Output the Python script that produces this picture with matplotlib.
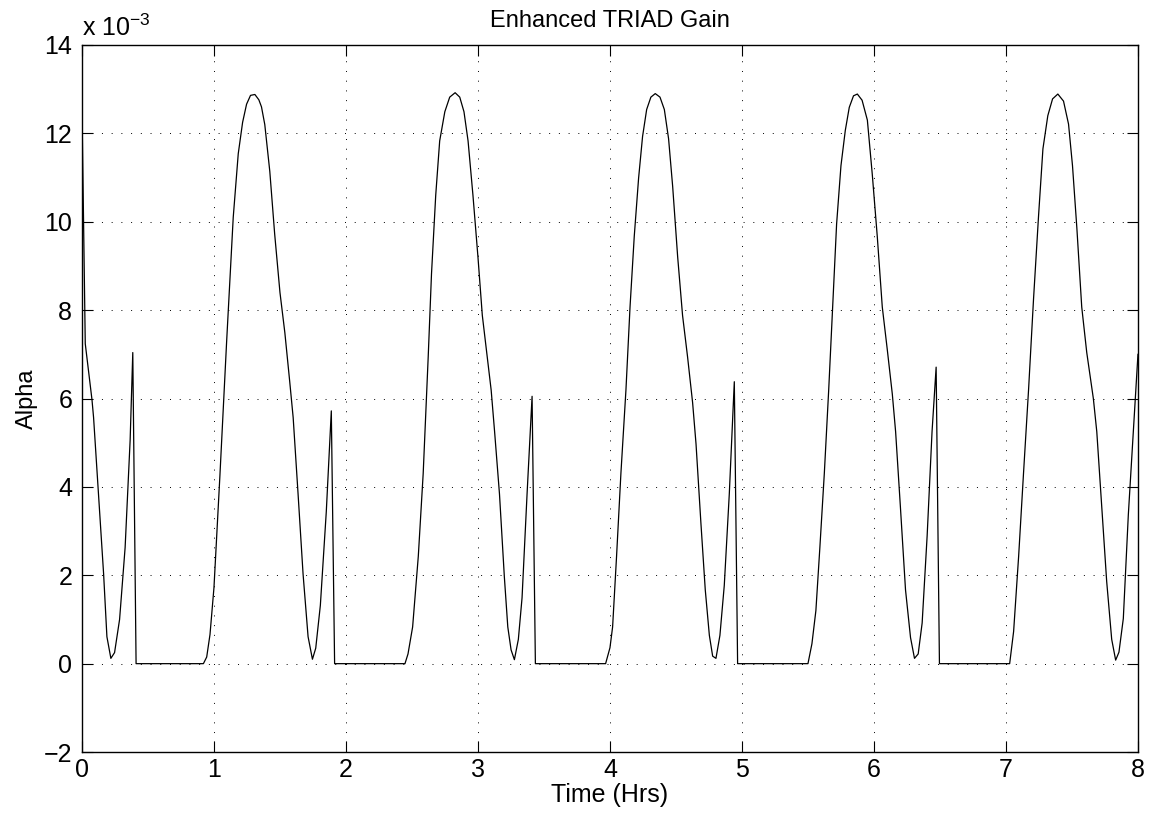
import matplotlib
matplotlib.use("Agg")
import matplotlib.pyplot as plt

plt.rcParams["font.family"] = ["Liberation Sans", "DejaVu Sans"]
plt.rcParams["mathtext.fontset"] = "custom"
plt.rcParams["mathtext.rm"] = "Liberation Sans"

# alpha values, in units of 1e-3
time_hrs = [
    0.0, 0.025, 0.076, 0.088, 0.164, 0.189, 0.219, 0.247, 0.285, 0.327, 0.365, 0.385, 0.41,
    0.92, 0.945, 0.97, 1.0, 1.045, 1.096, 1.146, 1.184, 1.217, 1.247, 1.277, 1.31, 1.34,
    1.36, 1.385, 1.423, 1.46, 1.5, 1.537, 1.574, 1.6, 1.637, 1.675, 1.713, 1.746, 1.771,
    1.806, 1.851, 1.889, 1.914,
    2.447, 2.47, 2.505, 2.548, 2.585, 2.623, 2.648, 2.68, 2.71, 2.749, 2.786, 2.827, 2.862,
    2.894, 2.925, 2.962, 3.0, 3.033, 3.063, 3.1, 3.126, 3.163, 3.2, 3.226, 3.251, 3.276,
    3.306, 3.334, 3.372, 3.41, 3.435,
    3.967, 4.0, 4.02, 4.05, 4.083, 4.121, 4.152, 4.184, 4.217, 4.247, 4.278, 4.31, 4.343,
    4.379, 4.412, 4.444, 4.475, 4.513, 4.55, 4.588, 4.626, 4.652, 4.689, 4.722, 4.753,
    4.778, 4.803, 4.833, 4.866, 4.904, 4.942, 4.967,
    5.5, 5.53, 5.56, 5.59, 5.624, 5.657, 5.687, 5.717, 5.75, 5.783, 5.813, 5.845, 5.874,
    5.91, 5.95, 5.987, 6.025, 6.063, 6.1, 6.139, 6.164, 6.2, 6.239, 6.277, 6.307, 6.335,
    6.365, 6.403, 6.44, 6.471, 6.496,
    7.028, 7.058, 7.096, 7.133, 7.171, 7.209, 7.247, 7.28, 7.317, 7.353, 7.393, 7.436,
    7.474, 7.504, 7.537, 7.574, 7.612, 7.662, 7.688, 7.725, 7.763, 7.801, 7.831, 7.856,
    7.889, 7.927, 7.965, 8.0,
]
alpha_e3 = [
    12.6, 7.24, 5.97, 5.57, 2.03, 0.61, 0.12, 0.25, 1.0, 2.63, 5.06, 7.04, 0.0,
    0.0, 0.15, 0.66, 1.72, 4.25, 7.29, 10.1, 11.54, 12.25, 12.66, 12.86, 12.88, 12.76,
    12.6, 12.2, 11.14, 9.72, 8.4, 7.49, 6.38, 5.57, 3.85, 2.03, 0.61, 0.1, 0.35,
    1.32, 3.44, 5.72, 0.0,
    0.0, 0.22, 0.83, 2.43, 4.3, 6.94, 8.82, 10.6, 11.83, 12.49, 12.82, 12.92, 12.82,
    12.49, 11.83, 10.6, 9.2, 7.88, 7.13, 6.19, 5.25, 3.84, 1.96, 0.83, 0.31, 0.09,
    0.55, 1.49, 3.84, 6.05, 0.0,
    0.0, 0.36, 0.83, 2.43, 4.31, 6.19, 8.07, 9.67, 10.99, 11.93, 12.54, 12.82, 12.9,
    12.82, 12.54, 11.88, 10.8, 9.2, 7.88, 6.94, 5.91, 4.97, 3.18, 1.67, 0.64,
    0.17, 0.12, 0.64, 1.77, 3.84, 6.38, 0.0,
    0.0, 0.45, 1.2, 2.62, 4.31, 6.19, 8.07, 9.95, 11.27, 12.07, 12.59, 12.85, 12.89,
    12.75, 12.3, 11.08, 9.67, 8.07, 7.13, 6.1, 5.25, 3.56, 1.67, 0.59, 0.12, 0.22,
    0.92, 2.9, 5.25, 6.71, 0.0,
    0.0, 0.73, 2.43, 4.31, 6.19, 8.26, 10.14, 11.65, 12.4, 12.78, 12.89, 12.73,
    12.21, 11.27, 9.86, 8.07, 7.04, 6.0, 5.25, 3.56, 1.86, 0.55, 0.08, 0.26,
    1.02, 3.37, 5.25, 7.0,
]

x_ticks = [0, 1, 2, 3, 4, 5, 6, 7, 8]
y_ticks = [-2, 0, 2, 4, 6, 8, 10, 12, 14]

fig = plt.figure(figsize=(11.56, 8.21), dpi=100)
ax = fig.add_axes([0.0709, 0.0840, 0.9135, 0.8612])

ax.plot(time_hrs, alpha_e3, color="black", linewidth=0.9)

ax.set_xlim(0, 8)
ax.set_ylim(-2, 14)
ax.set_xticks(x_ticks)
ax.set_yticks(y_ticks)
ax.set_xticklabels([str(t) for t in x_ticks])
ax.set_yticklabels([str(t).replace("-", "\u2212") for t in y_ticks])

ax.grid(True, color="black", linestyle=(0, (1, 9)), linewidth=0.7)
ax.tick_params(direction="in", length=8, width=0.8, top=True, right=True,
               labelsize=18, pad=4)
ax.tick_params(axis="y", pad=7)
for spine in ax.spines.values():
    spine.set_linewidth(1.0)

ax.set_title("Enhanced TRIAD Gain", fontsize=17, pad=13)
ax.set_xlabel("Time (Hrs)", fontsize=18, labelpad=1)
ax.set_ylabel("Alpha", fontsize=17, labelpad=4)
ax.text(0.0, 1.006, r"x 10$^{\mathregular{-3}}$", transform=ax.transAxes,
        fontsize=18, ha="left", va="bottom")

fig.savefig("out.png", dpi=100)
